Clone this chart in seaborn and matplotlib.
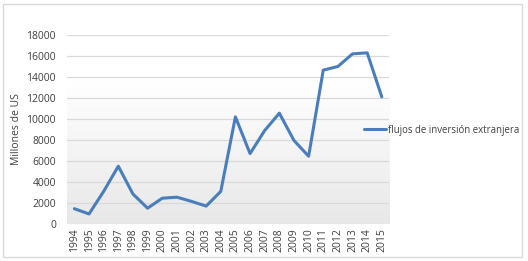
import matplotlib
matplotlib.use("Agg")
import matplotlib.pyplot as plt
import numpy as np
import pandas as pd
import seaborn as sns
from matplotlib.patches import Rectangle

YEARS = [str(y) for y in range(1994, 2016)]
FLOWS = [1450, 950, 3100, 5500, 2850, 1500, 2450, 2550, 2150, 1700, 3100,
         10200, 6700, 8900, 10550, 7950, 6450, 14650, 15000, 16200, 16300, 12100]
SERIES_LABEL = "flujos de inversión extranjera"
Y_TICKS = list(range(0, 18001, 2000))

LINE_COLOR = "#4a7ebb"

sns.set_theme(style="white")
plt.rcParams["font.family"] = ["Open Sans", "DejaVu Sans"]

df = pd.DataFrame({"year": YEARS, "flow": FLOWS, "serie": SERIES_LABEL})

fig = plt.figure(figsize=(5.28, 2.61), dpi=100)
ax = fig.add_axes([0.127, 0.142, 0.610, 0.724])

# gradient background of plot area: light gray at the bottom fading to white near the top
grad = np.linspace(0, 1, 256).reshape(-1, 1)
grad = np.clip(grad / 0.75, 0, 1)
ax.imshow(grad, extent=[0, 1, 0, 1], transform=ax.transAxes, aspect="auto",
          cmap=matplotlib.colors.LinearSegmentedColormap.from_list("bg", ["#e8e8e8", "#ffffff"]),
          zorder=0, origin="lower")

for t in Y_TICKS:
    ax.axhline(t, color="#d9d9d9", linewidth=0.9, zorder=1)

sns.lineplot(data=df, x="year", y="flow", hue="serie", palette=[LINE_COLOR],
             linewidth=2.2, sort=False, ax=ax, zorder=3)

ax.set_xlim(-0.5, len(YEARS) - 0.5)
ax.set_ylim(0, 18000)
ax.set_yticks(Y_TICKS)
ax.set_xticks(range(len(YEARS)))
ax.set_xticklabels(YEARS, rotation=90, fontsize=7.5, color="#404040")
ax.tick_params(axis="y", labelsize=7.5, labelcolor="#404040", length=0, pad=8)
ax.tick_params(axis="x", length=0, pad=3)
ax.set_xlabel("")
ax.set_ylabel("Millones de US", fontsize=7.5, color="#404040", labelpad=3)
for s in ax.spines.values():
    s.set_visible(False)

leg = ax.legend(loc="center left", bbox_to_anchor=(0.91, 0.497), frameon=False,
                fontsize=6.9, handlelength=2.3, handletextpad=0.25,
                borderaxespad=0)
for txt in leg.get_texts():
    txt.set_color("#404040")

# outer chart border
fig.patches.append(Rectangle((3 / 528, 4 / 261), 519 / 528, 253 / 261, transform=fig.transFigure,
                             fill=False, edgecolor="#d9d9d9", linewidth=1.0))

fig.savefig("out.png", dpi=100)
